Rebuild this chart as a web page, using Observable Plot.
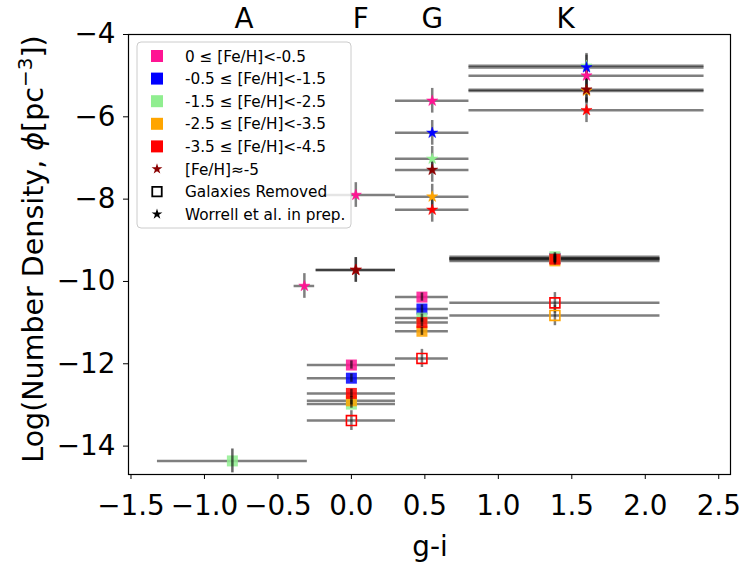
<!DOCTYPE html>
<html><head><meta charset="utf-8">
<script src="https://cdn.jsdelivr.net/npm/d3@7"></script>
<script src="https://cdn.jsdelivr.net/npm/@observablehq/plot@0.6"></script>
<style>
body{margin:0;background:#fff}
#chart{position:relative;width:742px;height:565px}
</style>
</head><body><div id="chart"></div>
<script>
// metallicity bins
const binLabels = ["0 ≤ [Fe/H]<-0.5", "-0.5 ≤ [Fe/H]<-1.5", "-1.5 ≤ [Fe/H]<-2.5", "-2.5 ≤ [Fe/H]<-3.5", "-3.5 ≤ [Fe/H]<-4.5", "[Fe/H]≈-5"];
const binColors = ["#ff1493", "#0000ff", "#90ee90", "#ffa500", "#ff0000", "#8b0000"];

// filled squares (bin index: 0 pink,1 blue,2 green,3 orange,4 red)
const sqBin  = [2,      0,      1,      2,      3,      4,      0,      1,      2,      3,      4,      0,     1,     2,     3,     4];
const sqGI   = [-0.81,  0.00,   0.00,   0.00,   0.00,   0.00,   0.48,   0.48,   0.48,   0.48,   0.48,   1.385, 1.385, 1.385, 1.385, 1.385];
const sqPhi  = [-14.36, -12.03, -12.35, -12.98, -12.90, -12.72, -10.38, -10.67, -10.89, -11.21, -11.00, -9.44, -9.44, -9.40, -9.50, -9.46];
const sqXerr = [0.51,   0.30,   0.30,   0.30,   0.30,   0.30,   0.18,   0.18,   0.18,   0.18,   0.18,   0.715, 0.715, 0.715, 0.715, 0.715];
const sqYerr = [0.29,   0.10,   0.10,   0.10,   0.10,   0.10,   0.10,   0.10,   0.10,   0.10,   0.10,   0.10,  0.10,  0.10,  0.10,  0.10];

// open squares: galaxies removed
const galBin  = [4,      4,      4,      3];
const galGI   = [0.00,   0.48,   1.385,  1.385];
const galPhi  = [-13.38, -11.87, -10.52, -10.825];
const galXerr = [0.30,   0.18,   0.715,  0.715];
const galYerr = [0.24,   0.22,   0.25,   0.25];

// stars: Worrell et al. in prep.
const wBin  = [0,     0,     4,     5,     0,     1,     2,     5,     3,     4,     2,     1,     0,     3,     5,     4];
const wGI   = [-0.32, 0.03,  0.03,  0.03,  0.55,  0.55,  0.55,  0.55,  0.55,  0.55,  1.60,  1.60,  1.60,  1.60,  1.60,  1.60];
const wPhi  = [-10.11,-7.90, -9.72, -9.72, -5.61, -6.39, -7.02, -7.29, -7.94, -8.26, -4.76, -4.80, -5.00, -5.37, -5.34, -5.84];
const wXerr = [0.07,  0.27,  0.27,  0.27,  0.25,  0.25,  0.25,  0.25,  0.25,  0.25,  0.80,  0.80,  0.80,  0.80,  0.80,  0.80];
const wYerr = [0.30,  0.30,  0.30,  0.30,  0.30,  0.30,  0.30,  0.30,  0.30,  0.30,  0.30,  0.30,  0.30,  0.30,  0.30,  0.30];

// spectral class labels along the top
const classLabels = ["A", "F", "G", "K"];
const classGI = [-0.731, 0.063, 0.551, 1.457];

const xTicks = [-1.5, -1.0, -0.5, 0.0, 0.5, 1.0, 1.5, 2.0, 2.5];
const yTicks = [-4, -6, -8, -10, -12, -14];

function rows(gi, phi, xe, ye, bin) {
  return gi.map((g, i) => ({gi: g, phi: phi[i], xe: xe[i], ye: ye[i], color: binColors[bin[i]]}));
}
const squares = rows(sqGI, sqPhi, sqXerr, sqYerr, sqBin);
const gals = rows(galGI, galPhi, galXerr, galYerr, galBin);
const stars = rows(wGI, wPhi, wXerr, wYerr, wBin);
const all = [...squares, ...gals, ...stars];

const errH = (data) => Plot.ruleY(data, {y: "phi", x1: d => d.gi - d.xe, x2: d => d.gi + d.xe, stroke: "black", strokeOpacity: 0.5, strokeWidth: 2.5});
const errV = (data, op) => Plot.ruleX(data, {x: "gi", y1: d => d.phi - d.ye, y2: d => d.phi + d.ye, stroke: "black", strokeOpacity: op, strokeWidth: 2.5});

const plot = Plot.plot({
  width: 742, height: 565,
  marginLeft: 128, marginRight: 12, marginTop: 34, marginBottom: 91,
  x: {domain: [-1.517, 2.58], axis: null},
  y: {domain: [-14.69, -4], axis: null},
  color: {type: "identity"},
  style: {fontSize: "27.8px", fontFamily: "DejaVu Sans", background: "white", color: "black"},
  marks: [
    errH(all),
    errV(gals, 0.5),
    errV(stars, 0.5),
    Plot.dot(squares, {x: "gi", y: "phi", symbol: "square", r: 6.2, fill: "color", fillOpacity: 0.85}),
    errV(squares, 0.6),
    Plot.dot(gals, {x: "gi", y: "phi", symbol: "square", r: 5.6, fill: "none", stroke: "color", strokeWidth: 1.6}),
    Plot.dot(stars, {x: "gi", y: "phi", symbol: "star", r: 3.5, fill: "color", stroke: "color", strokeWidth: 0.5}),
    Plot.frame({stroke: "black", strokeWidth: 1.2}),
    Plot.axisX({ticks: xTicks, tickFormat: d3.format(".1f"), tickSize: 5, tickPadding: 16, label: null, anchor: "bottom"}),
    Plot.axisY({ticks: yTicks, tickFormat: d3.format("d"), tickSize: 5, tickPadding: 8, label: null, anchor: "left"}),
    Plot.text(classLabels, {x: (d, i) => classGI[i], y: () => -4, text: d => d, dy: -15, fontSize: 27.8, clip: false})
  ]
});
document.getElementById("chart").appendChild(plot);

const svg = d3.select(plot);

// axis labels
svg.append("text").attr("x", 430).attr("y", 556).attr("text-anchor", "middle")
  .attr("font-size", 27.8).attr("font-family", "DejaVu Sans").attr("fill", "black").text("g-i");

const yl = svg.append("text").attr("transform", "translate(43,249) rotate(-90)")
  .attr("text-anchor", "middle").attr("font-size", 28.5).attr("font-family", "DejaVu Sans").attr("fill", "black");
yl.append("tspan").text("Log(Number Density, ");
yl.append("tspan").attr("font-style", "italic").text("ϕ");
yl.append("tspan").text("[pc");
yl.append("tspan").attr("font-size", 20).attr("dy", -11).text("−3");
yl.append("tspan").attr("dy", 11).text("])");

// legend
const leg = svg.append("g");
leg.append("rect").attr("x", 137).attr("y", 42).attr("width", 214).attr("height", 186)
  .attr("rx", 4).attr("fill", "white").attr("fill-opacity", 0.8).attr("stroke", "#cccccc").attr("stroke-width", 1);
const legendItems = [
  {label: binLabels[0], kind: "sq", color: binColors[0]},
  {label: binLabels[1], kind: "sq", color: binColors[1]},
  {label: binLabels[2], kind: "sq", color: binColors[2]},
  {label: binLabels[3], kind: "sq", color: binColors[3]},
  {label: binLabels[4], kind: "sq", color: binColors[4]},
  {label: binLabels[5], kind: "star", color: binColors[5]},
  {label: "Galaxies Removed", kind: "open", color: "black"},
  {label: "Worrell et al. in prep.", kind: "star", color: "black"}
];
legendItems.forEach((it, i) => {
  const cy = 56 + i * 22.6;
  const g = leg.append("g").attr("transform", `translate(157,${cy})`);
  if (it.kind === "sq") {
    g.append("path").attr("d", d3.symbol(d3.symbolSquare, 144)()).attr("fill", it.color);
  } else if (it.kind === "open") {
    g.append("path").attr("d", d3.symbol(d3.symbolSquare, 90)()).attr("fill", "none").attr("stroke", "black").attr("stroke-width", 1.8);
  } else {
    g.append("path").attr("d", d3.symbol(d3.symbolStar, 36)()).attr("fill", it.color);
  }
  leg.append("text").attr("x", 185).attr("y", cy).attr("dy", "0.36em").attr("text-anchor", "start")
    .attr("font-size", 15.3).attr("font-family", "DejaVu Sans").attr("fill", "black").text(it.label);
});
</script>
</body></html>
